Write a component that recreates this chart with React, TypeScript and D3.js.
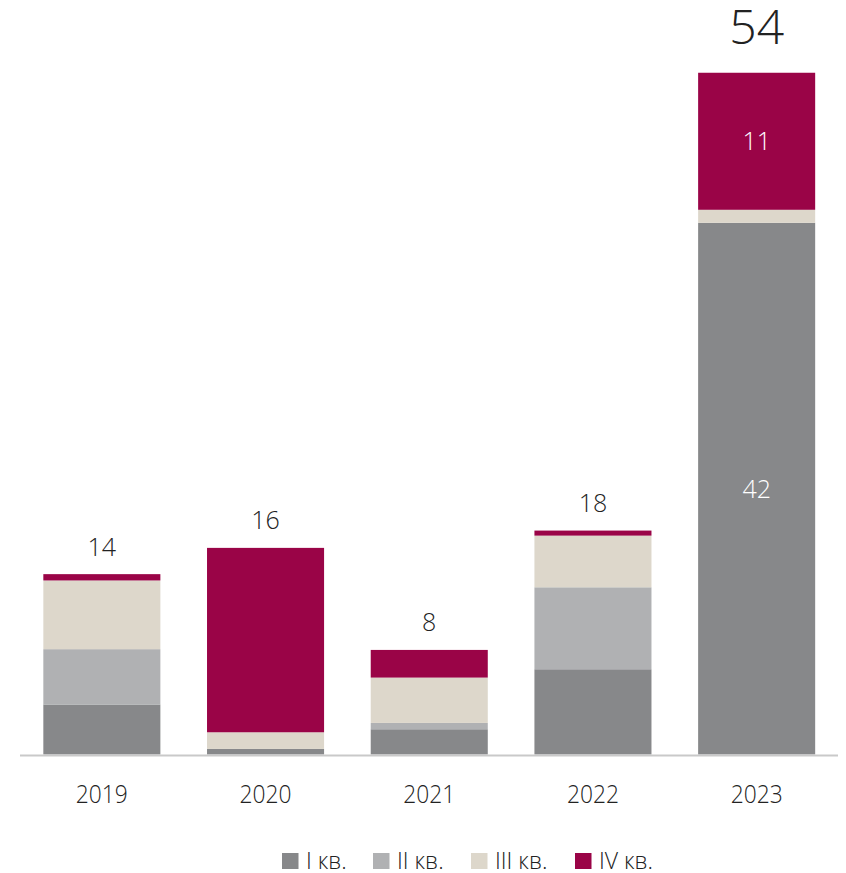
import React from "react";
import * as d3 from "d3";

const years = ["2019", "2020", "2021", "2022", "2023"];
const seriesNames = ["I кв.", "II кв.", "III кв.", "IV кв."];
const q1 = [3.96, 0.44, 2.0, 6.75, 42.1];
const q2 = [4.38, 0, 0.5, 6.49, 0];
const q3 = [5.44, 1.32, 3.59, 4.09, 1.03];
const q4 = [0.5, 14.6, 2.19, 0.4, 10.85];
const totals = ["14", "16", "8", "18", "54"];
const colors = ["#87888a", "#b0b1b3", "#ddd7cb", "#9a0447"];

const W = 846;
const H = 873;
const FONT = "'Open Sans', 'Noto Sans', sans-serif";

export default function App() {
  const x = d3.scaleBand<string>().domain(years).range([20, 838.5]).paddingInner(0.285).paddingOuter(0.1425);
  const y = d3.scaleLinear().domain([0, 54]).range([754.5, 72.5]);
  const rows = years.map((yr, i) => ({ year: yr, q1: q1[i], q2: q2[i], q3: q3[i], q4: q4[i] }));
  const keys = ["q1", "q2", "q3", "q4"];
  const stack = d3.stack<any>().keys(keys)(rows);
  const sumTop = rows.map((r) => r.q1 + r.q2 + r.q3 + r.q4);
  const bw = x.bandwidth();

  const legendX = [282, 373, 471, 575];

  return (
    <svg width={W} height={H} style={{ position: "absolute", left: 0, top: 0, background: "#fff" }}>
      {stack.map((layer, li) => (
        <g key={li} fill={colors[li]}>
          {layer.map((d, i) =>
            d[1] - d[0] > 0 ? (
              <rect key={i} x={x(years[i])} y={y(d[1])} width={bw} height={y(d[0]) - y(d[1])} />
            ) : null
          )}
        </g>
      ))}
      <line x1={20} x2={838} y1={755.5} y2={755.5} stroke="#c9c9c9" strokeWidth={2} />
      {years.map((yr, i) => {
        const cx = (x(yr) as number) + bw / 2;
        const big = i === 4;
        return (
          <text
            key={"t" + i}
            x={cx}
            y={big ? y(sumTop[i]) - 29 : y(sumTop[i]) - 18.5}
            textAnchor="middle"
            fontFamily={FONT}
            fontWeight={300}
            fontSize={big ? 48 : 25}
            fill="#222"
          >
            {totals[i]}
          </text>
        );
      })}
      <text
        x={(x("2023") as number) + bw / 2}
        y={(y(stack[3][4][0]) + y(stack[3][4][1])) / 2 + 9}
        textAnchor="middle"
        fontFamily={FONT}
        fontWeight={300}
        fontSize={25}
        fill="#fff"
      >
        11
      </text>
      <text
        x={(x("2023") as number) + bw / 2}
        y={(y(stack[0][4][0]) + y(stack[0][4][1])) / 2 + 9}
        textAnchor="middle"
        fontFamily={FONT}
        fontWeight={300}
        fontSize={25}
        fill="#fff"
      >
        42
      </text>
      {years.map((yr, i) => (
        <text
          key={"y" + i}
          x={(x(yr) as number) + bw / 2}
          y={803}
          textAnchor="middle"
          fontFamily={FONT}
          fontWeight={300}
          fontSize={26}
          fill="#222"
          textLength={52}
          lengthAdjust="spacingAndGlyphs"
        >
          {yr}
        </text>
      ))}
      {seriesNames.map((s, i) => (
        <g key={"l" + i} transform={`translate(${legendX[i]},853)`}>
          <rect width={16.5} height={16} fill={colors[i]} />
          <text x={24} y={16} fontFamily={FONT} fontWeight={300} fontSize={23} fill="#222">
            {s}
          </text>
        </g>
      ))}
    </svg>
  );
}
